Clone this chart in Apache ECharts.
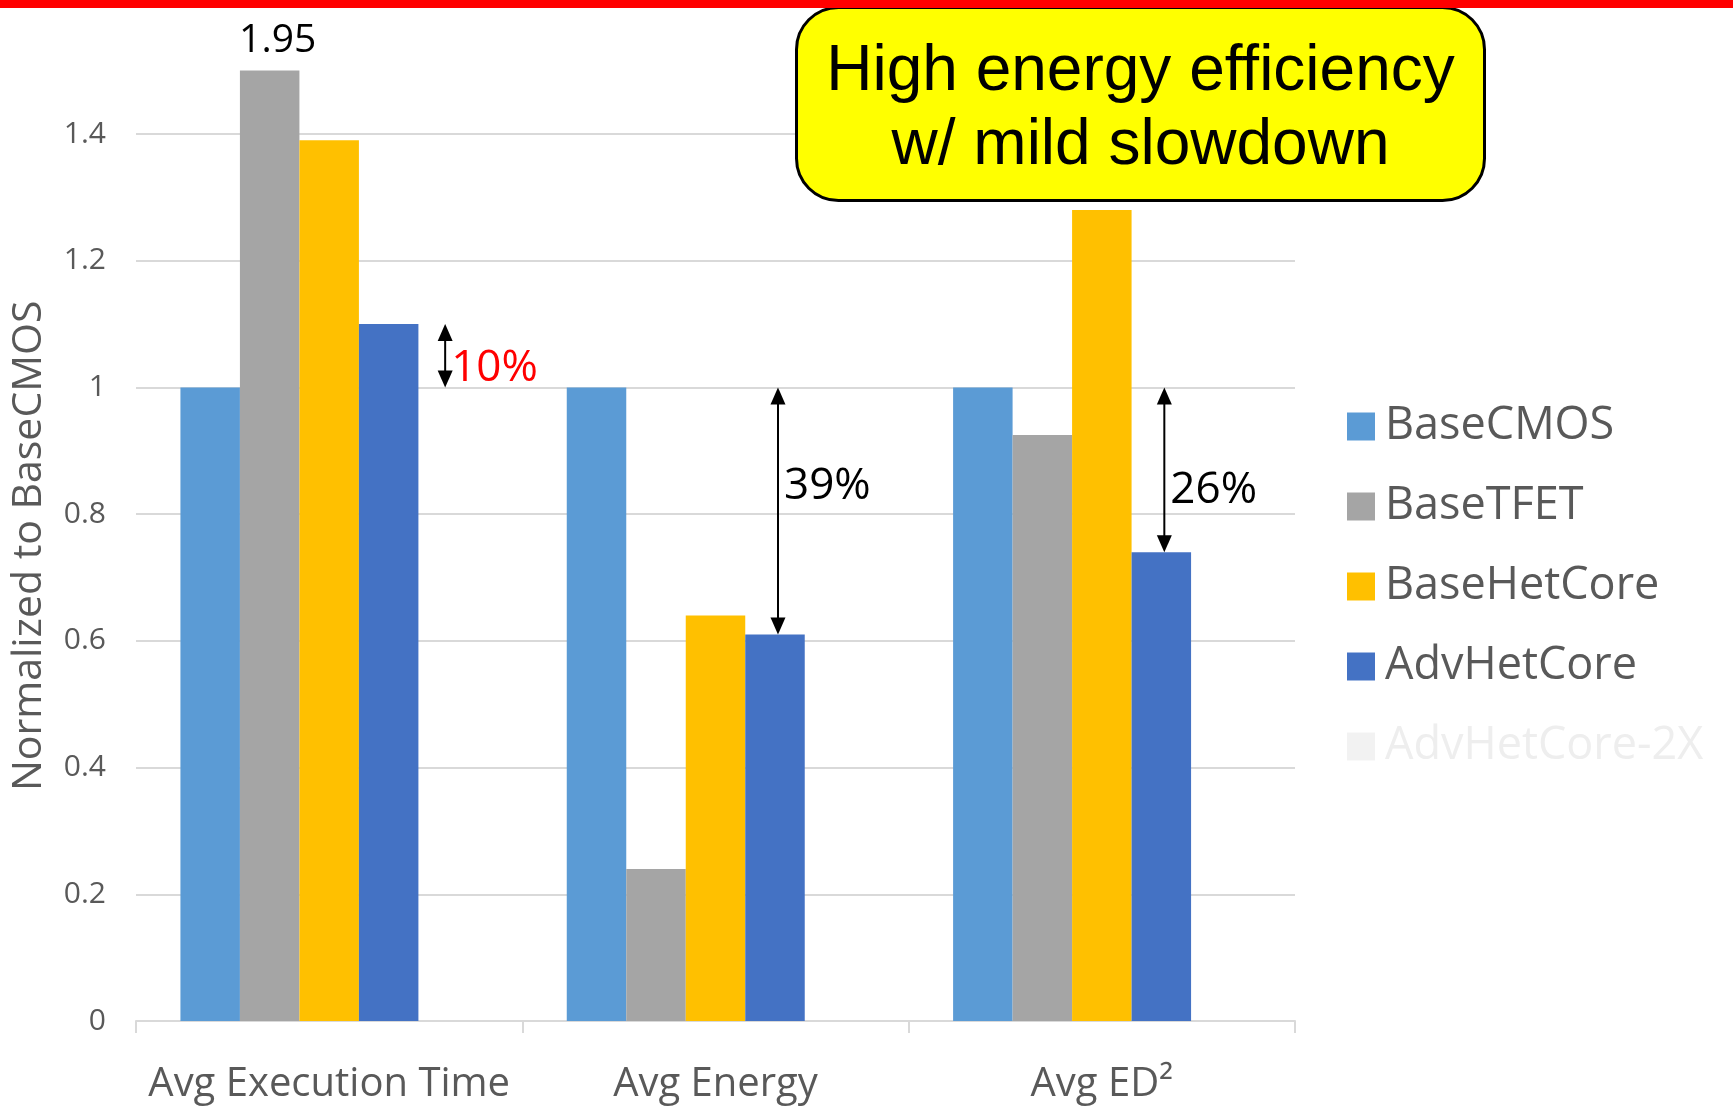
<!DOCTYPE html>
<html>
<head>
<meta charset="utf-8">
<script src="https://cdn.jsdelivr.net/npm/echarts@6/dist/echarts.min.js"></script>
<style>
html,body{margin:0;padding:0;background:#fff;}
#chart{width:1733px;height:1108px;}
</style>
</head>
<body>
<div id="chart"></div>
<script>
// ---- data ----
const categories = ['Avg Execution Time', 'Avg Energy', 'Avg ED\u00B2'];
const seriesNames = ['BaseCMOS', 'BaseTFET', 'BaseHetCore', 'AdvHetCore', 'AdvHetCore-2X'];
const baseCMOS    = [1.0, 1.0, 1.0];
const baseTFET    = [1.95, 0.24, 0.925];
const baseHetCore = [1.39, 0.64, 1.28];
const advHetCore  = [1.10, 0.61, 0.74];
const advHetCore2X = [null, null, null];
const yTicks = [0, 0.2, 0.4, 0.6, 0.8, 1, 1.2, 1.4];
const annotLabels = ['10%', '39%', '26%'];
const calloutLines = ['High energy efficiency', 'w/ mild slowdown'];

// ---- layout / style ----
const FONT = '"Open Sans", "Noto Sans", sans-serif';
const colors = ['#5B9BD5', '#A5A5A5', '#FFC000', '#4472C4', '#F2F2F2'];
const yMax = 1.5;
const catGap = 0.23;               // barCategoryGap fraction
const barFrac = (1 - catGap) / 5;  // each bar's fraction of the band
const annotSlot = [4, 3, 3];       // which bar slot the arrow sits over
const annotDx = [-3, 3, 3];
const annotLabelAt = [1.03, 0.844, 0.838];
const annotColor = ['#FF0000', '#000000', '#000000'];

const allValues = [baseCMOS, baseTFET, baseHetCore, advHetCore, advHetCore2X];

const barSeries = allValues.map((arr, si) => ({
  name: seriesNames[si],
  type: 'bar',
  barGap: '0%',
  barCategoryGap: (catGap * 100) + '%',
  clip: true,
  itemStyle: { color: colors[si] },
  data: arr.map(v => (v != null && v > yMax) ? {
    value: v,
    label: { show: true, position: 'top', distance: 10, offset: [8, 0], formatter: String(v),
             fontSize: 39, color: '#000', fontFamily: FONT }
  } : v)
}));

const annotData = categories.map((c, i) => [i, baseCMOS[i], advHetCore[i], annotLabelAt[i], annotSlot[i]]);

const annotSeries = {
  type: 'custom',
  coordinateSystem: 'cartesian2d',
  silent: true,
  z: 10,
  encode: { x: 0, y: [1, 2] },
  data: annotData,
  renderItem: function (params, api) {
    const idx = params.dataIndex;
    const cat = api.value(0);
    const bw = api.size([1, 0])[0];
    const center = api.coord([cat, 0])[0];
    const slot = api.value(4);
    const x = center + bw * (-(1 - catGap) / 2 + (slot + 0.5) * barFrac) + annotDx[idx];
    const yA = api.coord([cat, api.value(1)])[1];
    const yB = api.coord([cat, api.value(2)])[1];
    const yTop = Math.min(yA, yB), yBot = Math.max(yA, yB);
    const yLab = api.coord([cat, api.value(3)])[1];
    const head = 17, hw = 7.5;
    return {
      type: 'group',
      children: [
        { type: 'line', shape: { x1: x, y1: yTop + head - 2, x2: x, y2: yBot - head + 2 },
          style: { stroke: '#000', lineWidth: 2 } },
        { type: 'polygon', shape: { points: [[x, yTop], [x - hw, yTop + head], [x + hw, yTop + head]] },
          style: { fill: '#000' } },
        { type: 'polygon', shape: { points: [[x, yBot], [x - hw, yBot - head], [x + hw, yBot - head]] },
          style: { fill: '#000' } },
        { type: 'text', style: { text: annotLabels[idx], x: x + 6, y: yLab, align: 'left',
          verticalAlign: 'middle', fontSize: 44, fontFamily: FONT, fill: annotColor[idx] } }
      ]
    };
  }
};

const chart = echarts.init(document.getElementById('chart'), null, { renderer: 'canvas' });
chart.setOption({
  animation: false,
  backgroundColor: '#ffffff',
  title: {
    text: calloutLines.map(s => '{c|' + s + '}').join('\n'),
    left: 797, top: 2,
    padding: [33, 30, 23, 30],
    backgroundColor: '#FFFF00',
    borderColor: '#000000',
    borderWidth: 3,
    borderRadius: 42,
    z: 100,
    textStyle: {
      fontWeight: 'normal',
      rich: {
        c: { fontSize: 64, lineHeight: 74, color: '#000', align: 'center', width: 627, fontWeight: 'normal',
             fontFamily: '"Liberation Sans", Arial, sans-serif' }
      }
    }
  },
  grid: { left: 136, right: 438, top: 70.6, bottom: 87, containLabel: false },
  legend: {
    orient: 'vertical',
    left: 1342,
    top: 399,
    itemWidth: 28,
    itemHeight: 28,
    itemGap: 35,
    icon: 'rect',
    textStyle: { fontSize: 45, lineHeight: 44, color: '#595959', fontFamily: FONT, padding: [0, 0, 0, 5] },
    data: seriesNames.map((n, i) => i === 4 ? { name: n, textStyle: { color: '#EEEEEE' } } : { name: n })
  },
  xAxis: {
    type: 'category',
    data: categories,
    axisLine: { lineStyle: { color: '#D9D9D9', width: 2 } },
    axisTick: { show: true, length: 12, lineStyle: { color: '#D9D9D9', width: 2 } },
    axisLabel: { fontSize: 40, color: '#595959', fontFamily: FONT, margin: 44, interval: 0, hideOverlap: false }
  },
  yAxis: {
    type: 'value',
    min: 0,
    max: yMax,
    interval: 0.2,
    name: 'Normalized to BaseCMOS',
    nameLocation: 'middle',
    nameGap: 86,
    nameTextStyle: { fontSize: 41, color: '#595959', fontFamily: FONT },
    axisLine: { show: false },
    axisTick: { show: false },
    axisLabel: {
      fontSize: 30, color: '#595959', fontFamily: FONT, margin: 30, showMaxLabel: false,
      formatter: v => {
        const t = yTicks.find(k => Math.abs(k - v) < 1e-6);
        return t === undefined ? '' : String(t);
      }
    },
    splitLine: { show: true, showMaxLine: false, showMinLine: false,
                 lineStyle: { color: '#D9D9D9', width: 2 } }
  },
  series: barSeries.concat([annotSeries]),
  graphic: [
    { type: 'rect', left: 0, top: 0, shape: { width: 1733, height: 8 }, style: { fill: '#FF0000' }, z: 100 }
  ]
});
</script>
</body>
</html>
